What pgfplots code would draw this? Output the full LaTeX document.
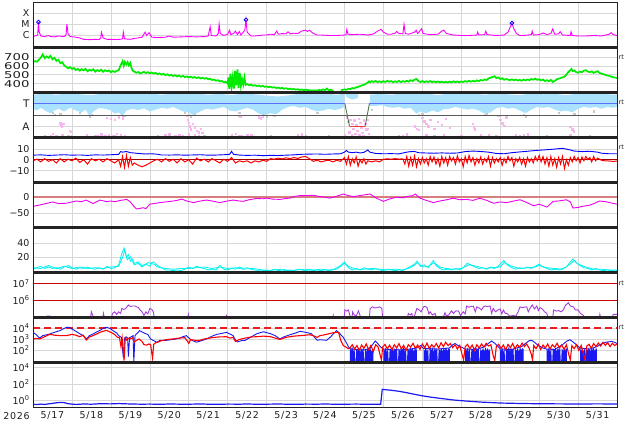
\documentclass[border=0pt]{standalone}
\usepackage{pgfplots}
\pgfplotsset{compat=1.18}
\usepackage{fontspec}
\setmainfont{DejaVu Sans}
\definecolor{xmag}{RGB}{255,0,255}
\definecolor{swgreen}{RGB}{0,235,0}
\definecolor{tblue}{RGB}{170,225,252}
\definecolor{tgray}{RGB}{200,200,200}
\definecolor{apink}{RGB}{250,180,240}
\definecolor{tline}{RGB}{90,110,250}
\definecolor{dipgreen}{RGB}{80,120,80}
\definecolor{dipred}{RGB}{235,60,60}
\definecolor{btblue}{RGB}{0,0,255}
\definecolor{bzred}{RGB}{255,0,0}
\definecolor{zerored}{RGB}{160,0,0}
\definecolor{dstzero}{RGB}{215,125,125}
\definecolor{dstmag}{RGB}{235,0,235}
\definecolor{kcyan}{RGB}{0,240,240}
\definecolor{lred}{RGB}{200,0,0}
\definecolor{epurple}{RGB}{170,60,220}
\definecolor{dashred}{RGB}{235,30,30}
\definecolor{pblue}{RGB}{25,25,240}
\definecolor{gridc}{RGB}{215,215,215}
\definecolor{framec}{RGB}{35,35,35}
\definecolor{labc}{RGB}{30,30,30}
\pgfplotsset{
  panel/.style={
    scale only axis, width=584bp, height=45bp, anchor=south west,
    xmin=0, xmax=15,
    xtick={0.5,1.5,...,14.5}, xticklabels={},
    minor xtick={1,2,...,14}, xminorgrids=true, ymajorgrids=true,
    major tick length=0pt, minor tick length=0pt,
    grid style={draw=gridc, line width=0.5bp},
    minor grid style={draw=gridc, line width=0.5bp},
    axis line style={draw=framec, line width=0.7bp},
    tick label style={font=\fontsize{9.5}{10}\selectfont, text=labc},
    clip mode=individual,
  },
}
\tikzset{rt/.style={anchor=west, font=\fontsize{6.5}{6.5}\selectfont, text=labc, inner sep=1.5bp}}
\begin{document}
\begin{tikzpicture}[x=1bp,y=1bp]
\path[use as bounding box] (0,0) rectangle (634,424);

% ---------------- Panel 1: X-ray
\begin{axis}[panel, name=p1, at={(33bp,376.5bp)}, ymode=log, ymin=8.3e-8, ymax=9.3e-4,
  ytick={1e-6,1e-5,1e-4}, yticklabels={C,M,X}]
\addplot[xmag, line width=0.9bp] coordinates {
(0,8.5e-7) (0.05,9e-7) (0.12,1.1e-6) (0.14,1.6e-5) (0.16,2e-6) (0.2,9e-7) (0.3,8e-7) (0.4,1e-6) (0.45,8e-7) (0.55,7.5e-7) (0.65,9e-7) (0.8,8e-7) (0.85,1.2e-6) (0.87,1.1e-5) (0.9,1.5e-6) (0.95,8e-7) (1.05,7.5e-7) (1.2,6e-7) (1.3,4.5e-7) (1.45,4.2e-7) (1.6,4.5e-7) (1.7,4.3e-7) (1.74,6e-7) (1.76,1.9e-6) (1.8,6e-7) (1.9,4.5e-7) (2.05,4.5e-7) (2.2,4.3e-7) (2.3,5e-7) (2.32,2e-6) (2.35,5e-7) (2.5,4.5e-7) (2.6,5.5e-7) (2.7,6e-7) (2.8,7e-7) (2.86,1.5e-6) (2.88,2e-6) (2.92,1e-6) (2.98,1.8e-6) (3.05,7e-7) (3.2,6.5e-7) (3.4,7e-7) (3.5,9e-7) (3.6,7e-7) (3.8,7.5e-7) (4.0,8e-7) (4.2,7.5e-7) (4.4,8e-7) (4.5,9e-7) (4.55,6e-6) (4.58,1e-6) (4.7,9e-7) (4.76,1.5e-6) (4.78,1.1e-5) (4.81,1.5e-6) (4.9,1e-6) (5.0,1.3e-6) (5.05,3e-6) (5.08,1.2e-6) (5.15,1.5e-6) (5.2,2.5e-6) (5.25,1.2e-6) (5.3,2.3e-6) (5.34,1.1e-6) (5.4,2e-6) (5.44,3e-6) (5.47,2.6e-5) (5.5,2e-6) (5.6,9e-7) (5.7,9e-7) (5.8,1e-6) (5.9,1.1e-6) (6.0,1.1e-6) (6.1,1.3e-6) (6.2,1.2e-6) (6.26,2.5e-6) (6.3,1.3e-6) (6.4,1.5e-6) (6.5,1.4e-6) (6.55,2.2e-6) (6.6,1.4e-6) (6.7,1.6e-6) (6.8,1.5e-6) (6.9,2.5e-6) (7.0,3e-6) (7.05,2.3e-6) (7.1,3e-6) (7.2,1.5e-6) (7.3,1.1e-6) (7.4,1.1e-6) (7.6,1e-6) (7.8,1e-6) (8.0,1.1e-6) (8.04,1.2e-6) (8.06,3.5e-6) (8.09,1.3e-6) (8.2,1.2e-6) (8.4,1.3e-6) (8.6,1.1e-6) (8.75,1.4e-6) (8.85,2.5e-6) (8.94,3.5e-6) (9.0,2e-6) (9.1,1.3e-6) (9.2,1.3e-6) (9.3,1.6e-6) (9.34,2.3e-6) (9.4,1.5e-6) (9.5,1.4e-6) (9.53,1e-5) (9.56,1.5e-6) (9.65,1.3e-6) (9.8,2e-6) (9.84,3e-6) (9.88,1.5e-6) (9.98,4e-6) (10.02,1.5e-6) (10.2,1.2e-6) (10.4,1.3e-6) (10.5,2.5e-6) (10.55,3e-6) (10.62,1.5e-6) (10.8,1.1e-6) (11.0,1e-6) (11.2,1e-6) (11.4,1.1e-6) (11.42,2e-6) (11.45,1.1e-6) (11.6,1.2e-6) (11.63,2.5e-6) (11.66,1.2e-6) (11.9,1e-6) (12.1,1.1e-6) (12.2,2e-6) (12.25,5e-6) (12.3,1.3e-5) (12.35,4e-6) (12.42,1.5e-6) (12.5,1e-6) (12.6,1e-6) (12.8,1.2e-6) (12.82,2.5e-6) (12.85,1.1e-6) (13.0,1.2e-6) (13.1,1.7e-6) (13.2,1.2e-6) (13.3,1.5e-6) (13.35,4e-6) (13.4,1.3e-6) (13.5,1.4e-6) (13.54,2.2e-6) (13.6,1.1e-6) (13.8,1e-6) (13.82,2.2e-6) (13.85,1e-6) (14.0,9e-7) (14.2,9e-7) (14.4,1e-6) (14.6,9e-7) (14.8,1.3e-6) (14.85,1.8e-6) (14.9,1.2e-6) (15,1e-6)};
\addplot[only marks, mark=o, mark size=1.9bp, btblue, line width=0.8bp] coordinates {(0.14,1.6e-5) (5.47,2.6e-5) (12.3,1.3e-5)};
\end{axis}

% ---------------- Panel 2: speed
\begin{axis}[panel, name=p2, at={(33bp,331.5bp)}, ymin=300, ymax=805,
  ytick={400,500,600,700}, yticklabels={400,500,600,700},
  yticklabel style={font=\fontsize{9.5}{10}\selectfont\addfontfeatures{FakeStretch=1.4}}]
\addplot[swgreen, line width=1.7bp] coordinates {
(0.0,640) (0.05,652) (0.1,645) (0.15,668) (0.2,690) (0.25,728) (0.3,685) (0.35,705) (0.4,690) (0.45,712) (0.5,672) (0.55,690) (0.6,655) (0.65,668) (0.7,630) (0.75,640) (0.8,605) (0.85,588) (0.9,572) (0.95,585) (1.0,565) (1.05,575) (1.1,552) (1.15,566) (1.2,545) (1.25,562) (1.3,548) (1.35,565) (1.4,538) (1.45,556) (1.5,545) (1.55,560) (1.6,533) (1.65,552) (1.7,540) (1.75,556) (1.8,532) (1.85,550) (1.9,538) (1.95,548) (2.0,528) (2.05,540) (2.1,530) (2.15,545) (2.2,548) (2.25,605) (2.3,650) (2.33,600) (2.36,645) (2.4,615) (2.43,640) (2.46,605) (2.5,632) (2.53,575) (2.56,545) (2.6,535) (2.65,522) (2.7,530) (2.75,515) (2.8,522) (2.85,532) (2.9,518) (2.95,528) (3.0,515) (3.05,525) (3.1,512) (3.15,520) (3.2,505) (3.25,514) (3.3,500) (3.35,510) (3.4,495) (3.45,505) (3.5,490) (3.55,498) (3.6,485) (3.65,494) (3.7,480) (3.75,490) (3.8,476) (3.85,486) (3.9,472) (3.95,480) (4.0,468) (4.05,478) (4.1,465) (4.15,474) (4.2,462) (4.25,470) (4.3,458) (4.35,466) (4.4,455) (4.45,462) (4.5,448) (4.55,455) (4.6,440) (4.65,446) (4.7,432) (4.75,438) (4.8,425) (4.85,430) (4.9,415) (4.95,420) (5.0,400) (5.02,470) (5.04,340) (5.07,510) (5.1,360) (5.13,470) (5.16,345) (5.19,540) (5.22,380) (5.25,560) (5.28,350) (5.31,520) (5.34,375) (5.37,450) (5.4,390) (5.43,470) (5.46,385) (5.5,395) (5.55,382) (5.6,388) (5.65,376) (5.7,382) (5.75,372) (5.8,378) (5.85,368) (5.9,374) (5.95,364) (6.0,368) (6.05,360) (6.1,364) (6.15,355) (6.2,360) (6.25,350) (6.3,355) (6.35,346) (6.4,352) (6.45,342) (6.5,348) (6.55,338) (6.6,344) (6.65,335) (6.7,340) (6.75,332) (6.8,337) (6.85,328) (6.9,334) (6.95,326) (7.0,331) (7.1,325) (7.2,322) (7.3,322) (7.35,330) (7.4,322) (7.45,335) (7.5,325) (7.55,345) (7.6,322) (7.65,332) (7.7,318) (7.72,290)};
\addplot[swgreen, line width=1.7bp] coordinates {
(7.92,290) (7.93,328) (8.0,335) (8.05,330) (8.1,342) (8.15,338) (8.2,350) (8.25,345) (8.3,358) (8.35,362) (8.4,372) (8.45,380) (8.5,386) (8.55,398) (8.6,412) (8.63,425) (8.66,415) (8.7,428) (8.75,418) (8.8,430) (8.85,416) (8.9,425) (8.95,415) (9.0,428) (9.05,418) (9.1,432) (9.15,420) (9.2,428) (9.25,415) (9.3,426) (9.35,418) (9.4,430) (9.45,416) (9.5,428) (9.55,420) (9.6,432) (9.65,422) (9.7,438) (9.75,428) (9.8,445) (9.85,452) (9.9,428) (9.95,418) (10.0,428) (10.05,416) (10.1,426) (10.15,418) (10.2,428) (10.25,416) (10.3,425) (10.35,415) (10.4,424) (10.45,414) (10.5,422) (10.55,412) (10.6,420) (10.65,412) (10.7,422) (10.75,414) (10.8,426) (10.85,416) (10.9,424) (10.95,414) (11.0,424) (11.05,418) (11.1,428) (11.15,420) (11.2,432) (11.25,422) (11.3,430) (11.35,424) (11.4,436) (11.45,428) (11.5,440) (11.55,434) (11.6,446) (11.65,440) (11.7,458) (11.75,465) (11.8,475) (11.85,482) (11.9,462) (11.95,470) (12.0,452) (12.05,460) (12.1,442) (12.15,452) (12.2,446) (12.25,438) (12.3,448) (12.35,436) (12.4,446) (12.45,434) (12.5,442) (12.55,432) (12.6,444) (12.65,436) (12.7,446) (12.75,438) (12.8,452) (12.85,444) (12.9,456) (12.95,442) (13.0,448) (13.05,436) (13.1,446) (13.15,428) (13.2,438) (13.25,426) (13.3,442) (13.35,418) (13.4,430) (13.45,448) (13.5,455) (13.55,462) (13.6,470) (13.65,478) (13.7,500) (13.75,530) (13.8,550) (13.83,565) (13.86,540) (13.9,548) (13.95,528) (14.0,522) (14.05,535) (14.1,528) (14.15,545) (14.2,550) (14.25,535) (14.3,528) (14.35,538) (14.4,520) (14.45,530) (14.5,540) (14.55,520) (14.6,512) (14.65,505) (14.7,498) (14.75,490) (14.8,488) (14.85,478) (14.9,472) (14.95,468) (15.0,462)};
\node[rt] at (rel axis cs:1,0.79) {rt};
\end{axis}

% ---------------- Panel 3: sector T/A
\begin{axis}[panel, name=p3, at={(33bp,286.5bp)}, ymin=0, ymax=1,
  ytick={0.25,0.75}, yticklabels={A,T},
  yticklabel style={font=\fontsize{10.5}{11}\selectfont}]
\addplot[fill=tblue, draw=none] coordinates {
(0,0.95) (0.3,0.98) (0.6,0.95) (0.9,0.98) (1.2,0.96) (1.5,0.94) (1.8,0.98) (2.1,0.96) (2.4,0.99) (2.7,0.96) (3.0,0.98) (3.3,0.95) (3.6,0.98) (3.9,0.96) (4.2,0.98) (4.5,0.95) (4.8,0.97) (5.1,0.94) (5.4,0.98) (5.7,0.96) (6.0,0.93) (6.3,0.91) (6.6,0.94) (6.9,0.98) (7.2,0.96) (7.5,0.98) (7.8,0.95) (8.0,0.97)
(8.0,0.68) (7.9,0.64) (7.75,0.61) (7.6,0.64) (7.45,0.6) (7.3,0.58) (7.15,0.62) (7.0,0.68) (6.85,0.66) (6.7,0.7) (6.55,0.68) (6.4,0.62) (6.25,0.52) (6.1,0.54) (5.95,0.5) (5.8,0.53) (5.65,0.62) (5.5,0.66) (5.35,0.62) (5.2,0.58) (5.05,0.6) (4.9,0.68) (4.75,0.65) (4.6,0.62) (4.45,0.64) (4.3,0.58) (4.2,0.54) (4.1,0.5) (4.0,0.56) (3.85,0.58) (3.75,0.62) (3.6,0.68) (3.45,0.64) (3.3,0.66) (3.15,0.62) (3.0,0.58) (2.85,0.65) (2.7,0.61) (2.55,0.64) (2.4,0.6) (2.3,0.48) (2.2,0.56) (2.1,0.53) (2.0,0.6) (1.85,0.64) (1.7,0.66) (1.55,0.58) (1.45,0.48) (1.35,0.62) (1.25,0.56) (1.1,0.6) (0.95,0.66) (0.8,0.58) (0.65,0.64) (0.55,0.6) (0.45,0.54) (0.35,0.58) (0.2,0.66) (0.1,0.6) (0,0.64)};
\addplot[fill=tblue, draw=none] coordinates {(8.02,0.98) (8.35,0.97) (8.35,0.88) (8.2,0.84) (8.05,0.9)};
\addplot[fill=tblue, draw=none] coordinates {
(8.65,0.95) (8.9,0.97) (9.2,0.95) (9.5,0.98) (9.8,0.96) (10.1,0.98) (10.4,0.94) (10.7,0.98) (11.0,0.96) (11.3,0.98) (11.6,0.95) (11.9,0.98) (12.2,0.96) (12.5,0.94) (12.8,0.98) (13.1,0.96) (13.4,0.97) (13.7,0.94) (14.0,0.98) (14.3,0.96) (14.6,0.98) (14.9,0.95) (15,0.96)
(15.0,0.68) (14.9,0.66) (14.75,0.68) (14.6,0.64) (14.45,0.68) (14.3,0.66) (14.15,0.68) (14.0,0.64) (13.85,0.56) (13.7,0.6) (13.55,0.58) (13.4,0.62) (13.25,0.68) (13.1,0.66) (12.95,0.68) (12.8,0.62) (12.65,0.54) (12.5,0.6) (12.35,0.66) (12.2,0.64) (12.05,0.68) (11.9,0.65) (11.75,0.56) (11.6,0.53) (11.45,0.6) (11.3,0.64) (11.15,0.62) (11.0,0.65) (10.85,0.68) (10.7,0.64) (10.55,0.63) (10.4,0.56) (10.25,0.6) (10.1,0.54) (9.95,0.58) (9.85,0.53) (9.7,0.66) (9.55,0.64) (9.4,0.68) (9.25,0.66) (9.1,0.68) (8.95,0.72) (8.8,0.7) (8.65,0.7)};
\addplot[only marks, mark=square*, mark size=0.7bp, tgray] coordinates {
(0.5,0.55) (0.55,0.5) (0.7,0.52) (1.2,0.55) (1.45,0.46) (1.5,0.5) (2.3,0.46) (2.35,0.49) (3.9,0.55) (4.0,0.5) (4.05,0.47) (4.15,0.52) (5.3,0.55) (5.9,0.5) (6.0,0.47) (6.2,0.49) (7.3,0.55) (8.7,0.62) (9.9,0.5) (10.0,0.53) (11.6,0.5) (11.65,0.53) (12.6,0.5) (12.65,0.47) (13.5,0.55) (13.9,0.52) (14.4,0.58) (0.3,0.03) (1.0,0.04) (1.6,0.03) (2.1,0.04) (3.2,0.04) (3.5,0.03) (4.4,0.03) (5.3,0.03) (6.1,0.04) (7.0,0.04) (7.6,0.03) (9.4,0.03) (10.3,0.04) (11.5,0.03) (12.5,0.03) (13.2,0.04) (14.3,0.04)};
\addplot[only marks, mark=square*, mark size=0.7bp, apink] coordinates {
(0.45,0.04) (0.5,0.08) (0.6,0.03) (0.75,0.05) (0.9,0.04) (1.38,0.06) (1.65,0.03) (1.75,0.07) (1.85,0.04) (1.95,0.06) (2.05,0.03) (2.15,0.08) (2.25,0.05) (2.35,0.04) (3.4,0.05) (3.5,0.08) (3.65,0.04) (3.75,0.06) (3.85,0.03) (4.0,0.07) (4.15,0.05) (4.25,0.04) (5.1,0.05) (5.2,0.08) (5.35,0.04) (5.5,0.06) (5.6,0.05) (6.8,0.05) (6.9,0.07) (8.0,0.05) (9.5,0.04) (9.6,0.07) (10.1,0.05) (10.55,0.05) (11.0,0.04) (11.5,0.05) (11.7,0.06) (11.9,0.04) (12.6,0.05) (12.7,0.07) (13.8,0.05)
(0.7,0.32) (0.72,0.27) (0.74,0.24) (0.78,0.3) (0.95,0.15) (0.97,0.13) (1.9,0.44) (2.0,0.42) (2.1,0.4) (2.2,0.45) (2.3,0.43) (3.95,0.48) (3.97,0.4) (4.0,0.33) (4.02,0.25) (4.05,0.18) (4.1,0.3) (4.15,0.22) (4.2,0.15) (4.25,0.12) (4.3,0.2) (4.35,0.1) (5.3,0.49) (5.32,0.46) (5.8,0.45) (5.85,0.43) (5.9,0.46)
(8.05,0.45) (8.1,0.35) (8.15,0.4) (8.2,0.3) (8.22,0.2) (8.25,0.38) (8.3,0.28) (8.33,0.15) (8.36,0.42) (8.4,0.33) (8.43,0.22) (8.46,0.1) (8.5,0.38) (8.53,0.3) (8.56,0.18) (8.6,0.4) (8.62,0.08) (8.12,0.12) (8.18,0.06) (8.28,0.08) (8.38,0.05) (8.48,0.04) (8.58,0.2)
(9.8,0.25) (9.85,0.2) (9.9,0.17) (10.0,0.44) (10.05,0.36) (10.1,0.3) (10.15,0.25) (10.2,0.4) (10.3,0.2) (10.4,0.35) (10.5,0.28) (10.6,0.42) (10.7,0.22) (11.3,0.3) (11.32,0.23) (11.35,0.18) (11.95,0.48) (12.0,0.4) (12.05,0.32) (12.1,0.26) (12.15,0.45) (12.4,0.06) (13.8,0.24) (13.85,0.18) (13.88,0.14)};
\addplot[black!65, line width=0.7bp] coordinates {(0,0.5) (15,0.5)};
\addplot[tline, line width=1.3bp] coordinates {(0,0.75) (8.01,0.75)};
\addplot[dipgreen, line width=0.9bp] coordinates {(8.01,0.75) (8.13,0.25)};
\addplot[dipred, line width=1.1bp] coordinates {(8.13,0.25) (8.53,0.25)};
\addplot[dipgreen, line width=0.9bp] coordinates {(8.53,0.25) (8.64,0.75)};
\addplot[tline, line width=1.3bp] coordinates {(8.64,0.75) (15,0.75)};
\node[rt] at (rel axis cs:1,0.79) {rt};
\end{axis}

% ---------------- Panel 4: Bt / Bz
\begin{axis}[panel, name=p4, at={(33bp,241.5bp)}, ymin=-21, ymax=20.5,
  ytick={-10,0,10}, yticklabels={−10,0,10}]
\addplot[zerored, line width=0.8bp] coordinates {(0,0) (15,0)};
\addplot[bzred, line width=1bp] coordinates {
(0,-1) (0.1,0.5) (0.2,-2) (0.3,1) (0.4,-1.5) (0.5,0) (0.6,-3) (0.7,1) (0.8,-2) (0.9,0.5) (1.0,-1) (1.1,1.5) (1.2,-2.5) (1.3,0) (1.4,-4) (1.5,1) (1.6,-1) (1.7,0.5) (1.8,-2) (1.9,1) (2.0,-1) (2.1,-3) (2.2,0) (2.25,-6) (2.3,3) (2.35,-7) (2.4,4) (2.45,-6) (2.5,2) (2.55,-5) (2.6,-3) (2.7,-5) (2.8,-6.5) (2.9,-5) (3.0,-3) (3.1,-1) (3.2,0.5) (3.3,-2) (3.4,1) (3.5,-1.5) (3.6,0.5) (3.7,-3) (3.8,1) (3.9,-2) (4.0,0) (4.1,-4) (4.2,1.5) (4.3,-1) (4.4,0.5) (4.5,-2) (4.6,1) (4.7,-1) (4.8,-3) (4.9,0.5) (5.0,-1.5) (5.1,2) (5.2,-3) (5.3,-1) (5.4,-2) (5.5,-1) (5.6,-3) (5.7,-1) (5.8,-2) (5.9,-0.5) (6.0,-1.5) (6.1,1) (6.2,0.5) (6.3,1.5) (6.4,0.8) (6.5,1.8) (6.6,1) (6.7,2) (6.8,1.2) (6.9,2.5) (7.0,3) (7.1,1) (7.2,-1.5) (7.3,-0.5) (7.4,-2) (7.5,-1) (7.6,-0.5) (7.7,-2) (7.8,-0.5) (7.9,-1.5) (8.0,2) (8.05,-4) (8.1,3) (8.15,-5) (8.2,1) (8.25,-3) (8.3,2.5) (8.35,-6) (8.4,0) (8.45,-3) (8.5,1) (8.55,-4) (8.6,-1) (8.7,-2) (8.8,-1) (8.9,-2) (9.0,0.5) (9.1,0.8) (9.2,0.5) (9.3,1) (9.4,0.6) (9.5,0.8) (9.55,-4) (9.6,3) (9.65,-6) (9.7,2) (9.75,-5) (9.8,3.5) (9.85,-6.5) (9.9,1) (9.95,-4) (10.0,2) (10.05,-3) (10.1,1) (10.15,-5) (10.2,3) (10.25,-2) (10.3,2.5) (10.35,-4) (10.4,1) (10.45,-6) (10.5,3) (10.55,-3) (10.6,2) (10.65,-5) (10.7,3) (10.75,-1) (10.8,2) (10.85,-4) (10.9,3.5) (10.95,-2) (11.0,1) (11.05,-6.5) (11.1,3) (11.15,-3) (11.2,4) (11.25,-2) (11.3,2) (11.35,-5) (11.4,1) (11.45,-3) (11.5,2.5) (11.55,-4) (11.6,1) (11.65,-2) (11.7,3) (11.75,-6) (11.8,2) (11.85,-3) (11.9,1) (11.95,-2) (12.0,2) (12.05,-5) (12.1,1) (12.15,-3) (12.2,3) (12.25,-1) (12.3,2) (12.35,-6) (12.4,1) (12.45,-2) (12.5,2) (12.55,-4) (12.6,1) (12.65,-6) (12.7,2) (12.75,-2) (12.8,1) (12.85,-3) (12.9,3) (12.95,-1) (13.0,4) (13.05,-2) (13.1,3) (13.15,-4) (13.2,2) (13.25,-6) (13.3,3) (13.35,-5) (13.4,1) (13.45,-7) (13.5,2) (13.55,-4) (13.6,3) (13.65,-8) (13.7,0) (13.75,-5) (13.8,2) (13.85,-2) (13.9,3) (13.95,-1) (14.0,2) (14.05,-3) (14.1,2.5) (14.15,-1) (14.2,3) (14.25,0) (14.3,2) (14.35,-2) (14.4,3) (14.45,-1) (14.5,1.5) (14.6,-0.5) (14.7,-1) (14.8,-1.2) (14.9,-1.5) (15.0,-1.3)};
\addplot[btblue, line width=0.9bp] coordinates {
(0,4.2) (0.2,4.5) (0.4,4.0) (0.6,4.3) (0.8,4.6) (1.0,4.2) (1.2,4.4) (1.4,4.0) (1.6,4.5) (1.8,4.3) (2.0,4.6) (2.2,5.0) (2.25,7.5) (2.3,7.0) (2.4,7.6) (2.5,6.5) (2.6,6.2) (2.7,5.8) (2.8,5.5) (2.9,5.3) (3.0,5.5) (3.1,5.4) (3.2,5.0) (3.3,4.4) (3.5,4.3) (3.7,4.5) (3.9,4.2) (4.1,4.4) (4.3,4.6) (4.5,4.2) (4.7,4.3) (4.9,4.6) (5.05,5.0) (5.1,7.8) (5.15,5.0) (5.3,4.3) (5.5,4.0) (5.7,4.2) (5.9,3.8) (6.1,4.0) (6.3,3.9) (6.5,4.2) (6.7,4.5) (6.9,5.0) (7.1,5.2) (7.3,5.3) (7.5,5.0) (7.7,5.3) (7.9,5.5) (8.0,7.0) (8.05,8.5) (8.1,7.0) (8.2,6.5) (8.3,7.0) (8.4,6.2) (8.5,6.8) (8.6,9.0) (8.65,7.0) (8.8,5.8) (9.0,5.5) (9.2,5.6) (9.4,5.4) (9.6,7.0) (9.7,7.5) (9.8,7.6) (9.9,6.5) (10.1,6.2) (10.3,6.0) (10.5,6.3) (10.7,6.0) (10.9,6.2) (11.1,7.5) (11.3,8.0) (11.5,7.6) (11.7,7.0) (11.9,5.8) (12.1,5.5) (12.3,6.5) (12.5,7.2) (12.7,7.8) (12.9,8.5) (13.1,9.0) (13.3,9.5) (13.5,10.2) (13.6,10.5) (13.7,9.8) (13.8,9.0) (13.9,8.0) (14.1,7.5) (14.3,7.8) (14.5,7.0) (14.6,6.0) (14.8,5.5) (15.0,5.5)};
\node[rt] at (rel axis cs:1,0.79) {rt};
\end{axis}

% ---------------- Panel 5: Dst
\begin{axis}[panel, name=p5, at={(33bp,196.5bp)}, ymin=-95, ymax=46,
  ytick={-50,0}, yticklabels={−50,0}]
\addplot[dstzero, line width=2.6bp] coordinates {(0,0) (15,0)};
\addplot[dstmag, line width=0.9bp] coordinates {
(0,-29) (0.15,-25) (0.26,-22) (0.4,-18) (0.51,-15) (0.65,-20) (0.86,-19) (1.0,-15) (1.11,-12) (1.25,-14) (1.37,-9) (1.54,-20) (1.72,-9) (1.89,-14) (2.0,-12) (2.11,-14) (2.25,-10) (2.41,-7) (2.5,-15) (2.6,-30) (2.66,-37) (2.75,-35) (2.83,-33) (2.9,-36) (3.0,-22) (3.1,-20) (3.26,-17) (3.4,-15) (3.6,-12) (3.7,-10) (3.82,-6) (3.95,-12) (4.12,-17) (4.3,-12) (4.46,-9) (4.6,-12) (4.8,-17) (4.95,-13) (5.14,-9) (5.3,-12) (5.4,-13) (5.55,-8) (5.74,-4) (5.9,-5) (6.0,-3) (6.15,-6) (6.34,-7) (6.5,-4) (6.6,-3) (6.69,2) (6.86,5) (7.0,5) (7.2,6) (7.37,2) (7.5,0) (7.63,-3) (7.8,3) (7.97,10) (8.1,5) (8.23,2) (8.4,5) (8.55,8) (8.66,10) (8.8,-2) (9.0,-13) (9.15,-6) (9.34,0) (9.5,-2) (9.6,2) (9.75,5) (9.82,10) (9.94,-3) (10.1,-10) (10.28,-17) (10.45,-12) (10.63,-8) (10.8,-3) (10.95,-8) (11.14,-7) (11.3,-10) (11.48,-3) (11.65,-10) (11.83,-19) (12.0,-15) (12.17,-17) (12.35,-12) (12.51,-8) (12.65,-15) (12.86,-27) (13.0,-22) (13.2,-31) (13.36,-13) (13.5,-12) (13.7,-8) (13.8,-15) (13.87,-34) (14.0,-32) (14.1,-29) (14.3,-25) (14.45,-18) (14.55,-12) (14.7,-14) (14.85,-18) (15,-22)};
\end{axis}

% ---------------- Panel 6: cyan
\begin{axis}[panel, name=p6, at={(33bp,151.5bp)}, ymin=-0.5, ymax=61,
  ytick={20,40}, yticklabels={20,40}]
\addplot[kcyan, line width=0.8bp] coordinates {
(0,4) (0.1,6) (0.2,8) (0.3,5) (0.4,7) (0.5,5) (0.6,6) (0.7,4) (0.8,7) (0.9,9) (1.0,6) (1.1,4) (1.2,6) (1.3,5) (1.4,7) (1.5,5) (1.6,4) (1.7,6) (1.8,4) (1.9,8) (2.0,5) (2.1,6) (2.2,10) (2.28,25) (2.34,33) (2.4,20) (2.45,24) (2.5,15) (2.55,18) (2.6,12) (2.7,14) (2.8,9) (2.9,11) (3.0,8) (3.05,13) (3.1,14) (3.2,9) (3.3,6) (3.4,3) (3.5,3) (3.6,2) (3.7,3) (3.8,2) (3.9,4) (4.0,7) (4.1,5) (4.2,8) (4.3,6) (4.4,5) (4.5,3) (4.6,4) (4.7,3) (4.8,9) (4.9,4) (5.0,3) (5.1,5) (5.2,4) (5.3,7) (5.4,5) (5.5,6) (5.6,4) (5.7,3) (5.8,2) (5.9,2) (6.0,3) (6.1,2) (6.2,4) (6.3,2) (6.4,3) (6.5,2) (6.6,3) (6.7,2) (6.8,4) (6.9,3) (7.0,2) (7.1,3) (7.2,2) (7.3,3) (7.4,2) (7.5,3) (7.6,2) (7.7,3) (7.8,6) (7.9,9) (8.0,14) (8.05,10) (8.1,6) (8.2,3) (8.3,5) (8.4,3) (8.5,6) (8.6,4) (8.7,3) (8.8,5) (8.9,3) (9.0,2) (9.1,4) (9.2,3) (9.3,2) (9.4,3) (9.5,2) (9.6,5) (9.7,8) (9.8,11) (9.86,15) (9.95,8) (10.05,10) (10.15,6) (10.28,16) (10.35,9) (10.45,5) (10.55,3) (10.65,4) (10.75,3) (10.85,5) (10.95,3) (11.05,6) (11.15,12) (11.25,10) (11.35,7) (11.45,5) (11.55,6) (11.65,4) (11.75,7) (11.85,5) (11.95,8) (12.09,16) (12.2,9) (12.3,6) (12.4,4) (12.5,6) (12.6,5) (12.7,7) (12.8,5) (12.9,8) (13.0,11) (13.1,7) (13.2,5) (13.3,3) (13.4,4) (13.5,3) (13.6,5) (13.7,7) (13.8,14) (13.87,18) (13.95,13) (14.05,9) (14.15,6) (14.25,5) (14.35,3) (14.45,5) (14.55,3) (14.65,2) (14.75,3) (14.85,2) (14.95,3) (15,2)};
\addplot[kcyan, line width=0.8bp] coordinates {
(0,6) (0.2,5) (0.4,9) (0.6,5) (0.8,8) (1.0,5) (1.2,7) (1.4,5) (1.6,6) (1.8,5) (2.0,7) (2.2,8) (2.3,20) (2.36,30) (2.42,17) (2.5,21) (2.6,10) (2.7,12) (2.8,7) (2.95,13) (3.1,11) (3.2,7) (3.4,5) (3.6,4) (3.8,5) (4.0,5) (4.2,6) (4.4,7) (4.6,5) (4.8,7) (5.0,5) (5.2,6) (5.4,4) (5.6,5) (5.8,4) (6.0,2) (6.2,3) (6.4,4) (6.6,2) (6.8,3) (7.0,4) (7.2,3) (7.4,4) (7.6,3) (7.8,4) (8.0,12) (8.1,8) (8.3,4) (8.5,4) (8.7,5) (8.9,4) (9.1,3) (9.3,4) (9.5,3) (9.7,6) (9.88,13) (10.0,7) (10.15,8) (10.3,13) (10.45,7) (10.6,5) (10.8,4) (11.0,5) (11.2,10) (11.4,8) (11.6,5) (11.8,6) (12.0,7) (12.1,13) (12.3,8) (12.5,5) (12.7,6) (12.9,7) (13.0,9) (13.2,6) (13.4,5) (13.6,4) (13.8,11) (13.9,16) (14.0,11) (14.2,7) (14.4,4) (14.6,4) (14.8,3) (15,3)};
\end{axis}

% ---------------- Panel 7: electrons
\begin{axis}[panel, name=p7, at={(33bp,106.5bp)}, ymode=log, ymin=9.1e4, ymax=4.7e7,
  ytick={1e6,1e7}, yticklabels={10\textsuperscript{6},10\textsuperscript{7}}]
\addplot[lred, line width=1bp] coordinates {(0,1e7) (15,1e7)};
\addplot[lred, line width=1bp] coordinates {(0,1e6) (15,1e6)};
\addplot[epurple, line width=0.9bp] coordinates {
(0,5e4) (0.33,5e4) (0.36,1.1e5) (0.44,1.1e5) (0.47,5e4) (1.46,5e4) (1.5,2e5) (1.54,1.1e5) (1.57,5e4) (1.77,5e4) (1.81,1.6e5) (1.85,5e4) (2.0,5e4) (2.04,1.6e5) (2.1,2e5) (2.15,1.4e5) (2.2,2e5) (2.25,1.6e5) (2.28,3.2e5) (2.33,2.8e5) (2.38,3.2e5) (2.45,5.2e5) (2.5,4.2e5) (2.56,4.5e5) (2.62,4.5e5) (2.66,4e5) (2.71,3.6e5) (2.75,2.6e5) (2.8,2e5) (2.85,1.2e5) (2.9,2e5) (2.95,1.5e5) (3.0,3.2e5) (3.05,2.8e5) (3.09,2e5) (3.13,5e4) (3.96,5e4) (3.99,1.4e5) (4.03,5e4) (4.94,5e4) (4.97,1.1e5) (5.0,5e4)
(7.68,5e4) (7.71,1.2e5) (7.74,5e4) (7.98,5e4) (8.01,2.6e5) (8.06,2.2e5) (8.1,2.6e5) (8.14,1.2e5) (8.18,5e4) (8.21,2e5) (8.25,1.3e5) (8.3,1.1e5) (8.36,2.3e5) (8.4,1.2e5) (8.44,5e4) (8.63,5e4) (8.66,3.2e5) (8.72,4e5) (8.78,3.4e5) (8.84,3.6e5) (8.9,4e5) (8.96,3.2e5) (8.99,5e4) (9.6,5e4) (9.64,1.6e5) (9.69,1.3e5) (9.73,1.6e5) (9.76,5e4) (9.8,1.2e5) (9.86,3.2e5) (9.92,2.6e5) (9.97,2e5) (10.03,4e5) (10.08,4.2e5) (10.12,3.6e5) (10.17,1.5e5) (10.2,2e5) (10.26,1.3e5) (10.33,1.6e5) (10.38,5e4) (10.55,1.1e5) (10.58,1.8e5) (10.62,1.1e5) (10.68,1.3e5) (10.75,2.3e5) (10.8,1.6e5) (10.86,2.3e5) (10.93,2.2e5) (10.98,1.2e5) (11.05,2e5) (11.1,1.5e5) (11.14,4.5e5) (11.2,3.8e5) (11.25,4.2e5) (11.31,4.4e5) (11.36,2e5) (11.4,4e5) (11.46,3.4e5) (11.52,2.6e5) (11.57,4e5) (11.61,4.5e5) (11.67,4.2e5) (11.74,4.5e5) (11.78,1.6e5) (11.82,3.2e5) (11.88,2e5) (11.94,2.6e5) (12.0,3e5) (12.04,1.5e5) (12.08,2.6e5) (12.13,1.6e5) (12.17,1.6e5) (12.25,1.1e5) (12.34,1.2e5) (12.4,1.1e5) (12.46,2e5) (12.51,4e5) (12.56,3.6e5) (12.62,3.8e5) (12.68,4e5) (12.72,2e5) (12.77,3.4e5) (12.82,5.2e5) (12.88,3e5) (12.94,4.5e5) (12.98,2.4e5) (13.02,3.6e5) (13.08,3e5) (13.14,2e5) (13.2,1.6e5) (13.24,5e4) (13.34,5e4) (13.37,2.6e5) (13.44,2.2e5) (13.5,2.4e5) (13.56,2e5) (13.62,2.6e5) (13.68,5e5) (13.75,7.2e5) (13.8,4.5e5) (13.88,4e5) (13.93,2.6e5) (14.0,2.6e5) (14.06,1.6e5) (14.14,1.2e5) (14.18,5e4) (14.53,5e4) (14.56,1.4e5) (14.6,5e4) (14.86,5e4) (14.9,1.4e5) (14.99,1.4e5) (15,1.3e5)};
\node[rt] at (rel axis cs:1,0.77) {rt};
\end{axis}

% ---------------- Panel 8: protons
\begin{axis}[panel, name=p8, at={(33bp,61.5bp)}, ymode=log, ymin=7.2, ymax=8.9e4,
  ytick={1e2,1e3,1e4}, yticklabels={10\textsuperscript{2},10\textsuperscript{3},10\textsuperscript{4}}]
\addplot[dashred, line width=1.3bp, dash pattern=on 7bp off 4bp] coordinates {(0,1e4) (15,1e4)};
\addplot[fill=pblue, draw=none] coordinates {(8.14,3) (8.14,160) (8.17,90) (8.2,190) (8.23,70) (8.26,150) (8.28,3) (8.3,120) (8.34,80) (8.37,170) (8.4,60) (8.43,140) (8.46,90) (8.49,180) (8.51,3) (8.53,130) (8.57,70) (8.6,160) (8.63,90) (8.66,140) (8.7,70) (8.74,120) (8.74,3)};
\addplot[fill=pblue, draw=none] coordinates {(9.0,3) (9.0,140) (9.03,80) (9.06,170) (9.09,60) (9.12,150) (9.14,3) (9.16,130) (9.2,85) (9.23,180) (9.26,70) (9.29,150) (9.32,95) (9.35,170) (9.37,3) (9.39,140) (9.43,75) (9.46,160) (9.49,90) (9.52,190) (9.55,65) (9.58,150) (9.6,3) (9.62,130) (9.66,80) (9.69,170) (9.72,95) (9.75,150) (9.78,70) (9.81,140) (9.84,95) (9.86,130) (9.86,3)};
\addplot[fill=pblue, draw=none] coordinates {(10.03,3) (10.03,150) (10.06,80) (10.09,170) (10.12,70) (10.15,140) (10.17,3) (10.19,160) (10.23,90) (10.26,180) (10.29,65) (10.32,150) (10.35,95) (10.38,170) (10.4,3) (10.42,140) (10.46,80) (10.49,160) (10.52,70) (10.55,150) (10.58,90) (10.61,180) (10.64,75) (10.67,140) (10.71,120) (10.71,3)};
\addplot[fill=pblue, draw=none] coordinates {(11.1,3) (11.1,130) (11.13,80) (11.16,160) (11.19,65) (11.22,150) (11.24,3) (11.26,140) (11.3,90) (11.33,180) (11.36,70) (11.39,150) (11.42,95) (11.45,170) (11.47,3) (11.49,140) (11.53,80) (11.56,160) (11.59,70) (11.62,180) (11.65,90) (11.68,150) (11.71,80) (11.74,140) (11.74,3)};
\addplot[fill=pblue, draw=none] coordinates {(11.99,3) (11.99,130) (12.02,80) (12.05,160) (12.08,65) (12.11,150) (12.13,3) (12.15,140) (12.19,90) (12.22,180) (12.25,70) (12.28,150) (12.31,95) (12.34,170) (12.36,3) (12.38,140) (12.42,80) (12.45,160) (12.48,70) (12.51,180) (12.54,95) (12.57,150) (12.6,120) (12.6,3)};
\addplot[fill=pblue, draw=none] coordinates {(13.19,3) (13.19,130) (13.22,80) (13.25,160) (13.28,65) (13.31,150) (13.33,3) (13.35,140) (13.39,90) (13.42,180) (13.45,70) (13.48,150) (13.51,95) (13.54,170) (13.56,3) (13.58,140) (13.62,80) (13.65,160) (13.68,95) (13.71,150) (13.71,3)};
\addplot[fill=pblue, draw=none] coordinates {(14.05,3) (14.05,140) (14.08,80) (14.11,160) (14.14,65) (14.17,150) (14.19,3) (14.21,140) (14.25,90) (14.28,180) (14.31,70) (14.34,150) (14.37,95) (14.4,170) (14.43,75) (14.46,150) (14.48,120) (14.48,3)};
\addplot[pblue, line width=0.9bp] coordinates {
(0,4e3) (0.08,2.5e3) (0.17,1.2e3) (0.25,2e3) (0.35,2.4e3) (0.43,2.8e3) (0.55,4e3) (0.69,5.7e3) (0.8,9e3) (0.86,1.15e4) (0.94,1.1e4) (1.0,8e3) (1.1,5e3) (1.2,3e3) (1.29,2e3) (1.37,1e3) (1.45,2e3) (1.54,2.8e3) (1.62,4e3) (1.72,6e3) (1.8,9e3) (1.89,1.15e4) (1.98,9e3) (2.06,5.5e3) (2.15,3.5e3) (2.2,2e3) (2.27,1.4e3) (2.32,20) (2.35,1.2e3) (2.4,1.5e3) (2.43,1.2e3) (2.45,25) (2.48,1.3e3) (2.55,1.8e3) (2.57,2e3) (2.59,8) (2.62,2e3) (2.74,5.7e3) (2.85,3.5e3) (2.95,2.5e3) (3.02,1e3) (3.1,700) (3.18,500) (3.26,750) (3.35,700) (3.43,750) (3.6,900) (3.75,1.1e3) (3.85,1.6e3) (3.94,2e3) (4.03,1e3) (4.1,700) (4.2,500) (4.3,650) (4.46,1e3) (4.6,1.8e3) (4.72,2.6e3) (4.85,3.2e3) (4.97,4e3) (5.06,2.8e3) (5.14,2e3) (5.2,800) (5.25,530) (5.35,700) (5.45,750) (5.6,1.5e3) (5.75,3e3) (5.92,4.5e3) (6.1,3e3) (6.22,2e3) (6.34,1e3) (6.45,1.6e3) (6.6,2.4e3) (6.75,3.5e3) (6.86,5e3) (7.0,4e3) (7.15,3e3) (7.3,750) (7.37,850) (7.54,750) (7.64,1.5e3) (7.71,2.8e3) (7.8,5.7e3) (7.89,2.8e3) (7.97,1.4e3) (8.06,380) (8.1,200) (8.14,130) (8.3,110) (8.5,100) (8.65,130) (8.72,300) (8.79,650) (8.85,400) (8.92,200) (9.0,120) (9.3,100) (9.6,110) (9.86,150) (9.95,250) (10.03,140) (10.4,120) (10.7,150) (10.78,300) (10.84,380) (10.92,250) (11.05,150) (11.1,120) (11.4,110) (11.6,200) (11.7,400) (11.78,650) (11.86,400) (11.95,200) (12.0,120) (12.3,110) (12.55,200) (12.65,400) (12.75,700) (12.81,750) (12.88,500) (12.98,250) (13.1,150) (13.19,120) (13.4,110) (13.6,300) (13.7,600) (13.79,850) (13.88,500) (13.98,250) (14.05,150) (14.3,120) (14.48,200) (14.6,350) (14.72,500) (14.86,600) (14.93,500) (15.0,380)};
\addplot[bzred, line width=1.1bp] coordinates {
(0,1e3) (0.1,1.1e3) (0.17,1e3) (0.3,1.6e3) (0.43,2.6e3) (0.55,2.2e3) (0.7,2e3) (0.86,2e3) (1.0,2.6e3) (1.1,2.2e3) (1.2,1.6e3) (1.29,2.2e3) (1.37,800) (1.45,1.5e3) (1.54,2e3) (1.65,3e3) (1.72,4e3) (1.8,5e3) (1.89,6e3) (2.0,4e3) (2.1,2.5e3) (2.17,1.4e3) (2.22,1.4e3) (2.26,200) (2.29,1.2e3) (2.34,11) (2.37,1.3e3) (2.4,800) (2.44,1.2e3) (2.5,1e3) (2.56,1.3e3) (2.6,530) (2.65,700) (2.72,1e3) (2.8,600) (2.85,300) (2.92,280) (2.98,350) (3.02,300) (3.07,18) (3.1,320) (3.15,450) (3.2,500) (3.3,700) (3.45,900) (3.6,1e3) (3.75,1.2e3) (3.9,1.3e3) (3.97,600) (4.0,400) (4.05,900) (4.1,800) (4.25,700) (4.4,1e3) (4.6,1.3e3) (4.75,1.5e3) (4.97,1.6e3) (5.06,1.2e3) (5.14,1.4e3) (5.2,600) (5.3,900) (5.45,1.2e3) (5.6,1.5e3) (5.75,1.6e3) (5.92,1.8e3) (6.1,1.6e3) (6.22,1.2e3) (6.34,900) (6.5,1.4e3) (6.7,1.8e3) (6.86,2e3) (7.0,2.2e3) (7.1,2.4e3) (7.2,2e3) (7.3,1.4e3) (7.37,2e3) (7.5,2.4e3) (7.6,3e3) (7.7,3.6e3) (7.8,4e3) (7.85,4e3) (7.9,800) (7.97,250) (8.04,180) (8.1,130)
(8.14,150) (8.2,300) (8.26,120) (8.32,250) (8.38,90) (8.44,280) (8.5,140) (8.56,350) (8.62,110) (8.68,260) (8.74,70) (8.8,300) (8.86,200) (8.92,30) (8.95,12) (8.98,180) (9.04,320) (9.1,130) (9.16,270) (9.22,100) (9.28,300) (9.34,150) (9.4,380) (9.46,120) (9.52,260) (9.58,90) (9.64,300) (9.7,180) (9.76,400) (9.82,140) (9.88,280) (9.94,110) (10.0,350) (10.06,160) (10.12,420) (10.18,130) (10.24,300) (10.3,180) (10.36,380) (10.42,150) (10.48,450) (10.54,200) (10.6,500) (10.66,250) (10.72,380) (10.78,160) (10.84,300) (10.9,120) (10.96,260) (11.02,40) (11.06,12) (11.1,200) (11.16,320) (11.22,130) (11.28,280) (11.34,90) (11.4,300) (11.46,150) (11.52,350) (11.58,180) (11.64,400) (11.7,230) (11.76,300) (11.82,30) (11.86,11) (11.9,200) (11.96,330) (12.02,140) (12.08,280) (12.14,100) (12.2,320) (12.26,160) (12.32,380) (12.38,130) (12.44,300) (12.5,170) (12.56,420) (12.62,200) (12.68,350) (12.74,150) (12.8,40) (12.83,12) (12.86,250) (12.92,130) (12.98,330) (13.04,110) (13.1,280) (13.16,150) (13.22,350) (13.28,120) (13.34,300) (13.4,180) (13.46,400) (13.52,150) (13.58,280) (13.64,110) (13.7,300) (13.76,40) (13.8,12) (13.84,250) (13.9,130) (13.96,300) (14.02,90) (14.08,260) (14.14,40) (14.18,12) (14.22,220) (14.28,330) (14.34,140) (14.4,380) (14.46,200) (14.52,420) (14.58,230) (14.64,500) (14.7,260) (14.76,450) (14.82,200) (14.88,400) (14.94,250) (15.0,350)};
\node[rt] at (rel axis cs:1,0.79) {rt};
\end{axis}

% ---------------- Panel 9
\begin{axis}[panel, name=p9, at={(33bp,16.5bp)}, ymode=log, ymin=0.117, ymax=4.4e4,
  ytick={1,1e2,1e4}, yticklabels={10\textsuperscript{0},10\textsuperscript{2},10\textsuperscript{4}},
  xticklabels={5/17,5/18,5/19,5/20,5/21,5/22,5/23,5/24,5/25,5/26,5/27,5/28,5/29,5/30,5/31},
  xticklabel style={font=\fontsize{9.5}{10}\selectfont\addfontfeatures{LetterSpace=8}, yshift=-0.5bp}]
\addplot[pblue, line width=1.2bp] coordinates {
(0,0.3) (0.1,0.27) (0.2,0.31) (0.3,0.28) (0.4,0.33) (0.5,0.38) (0.6,0.45) (0.7,0.5) (0.8,0.47) (0.9,0.35) (1.0,0.31) (1.1,0.28) (1.3,0.32) (1.5,0.3) (1.7,0.34) (2.0,0.33) (2.2,0.36) (2.5,0.32) (2.8,0.3) (3.0,0.31) (3.3,0.29) (3.5,0.32) (3.8,0.3) (4.0,0.3) (4.3,0.32) (4.5,0.3) (4.8,0.29) (5.0,0.31) (5.3,0.3) (5.5,0.32) (5.8,0.29) (6.0,0.3) (6.3,0.32) (6.5,0.3) (6.8,0.29) (7.0,0.31) (7.3,0.3) (7.5,0.32) (7.8,0.29) (8.0,0.3) (8.3,0.31) (8.5,0.3) (8.7,0.29) (8.93,0.3) (8.97,21) (9.0,20) (9.2,16) (9.4,12) (9.6,8) (9.8,5) (10.0,3.3) (10.2,2.3) (10.5,1.5) (10.8,1.0) (11.1,0.75) (11.5,0.55) (12.0,0.42) (12.5,0.37) (13.0,0.34) (13.5,0.33) (14.0,0.32) (14.5,0.33) (15,0.32)};
\end{axis}

\node[font=\fontsize{9.5}{10}\selectfont\addfontfeatures{LetterSpace=8}, text=labc] at (16.5,7.5) {2026};

\foreach \p in {p1,p2,p3,p4,p5,p6,p7,p8}
  \draw[line width=2.6bp, framec] (\p.south west) -- (\p.south east);
\draw[line width=0.8bp, framec] (p9.south west) rectangle (p1.north east);
\end{tikzpicture}
\end{document}
